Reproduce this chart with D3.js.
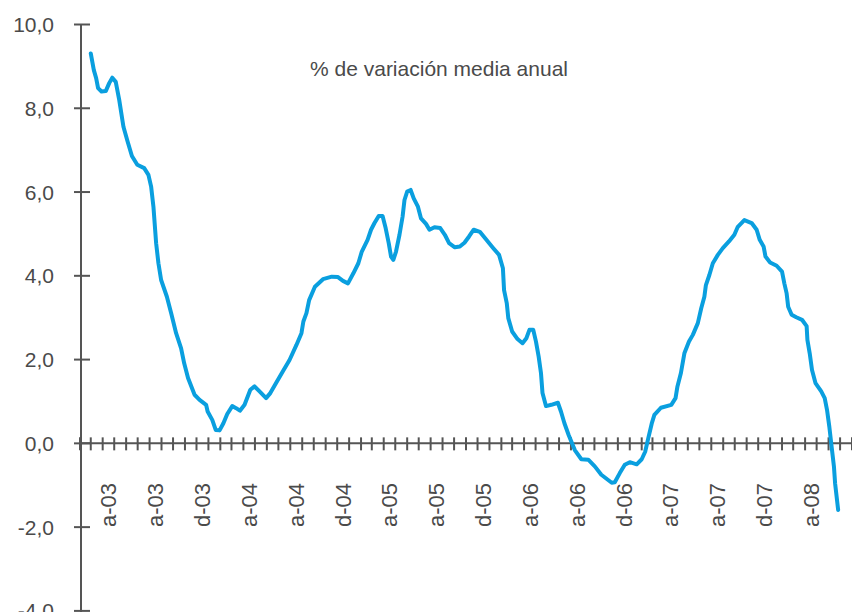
<!DOCTYPE html>
<html>
<head>
<meta charset="utf-8">
<script src="https://cdn.jsdelivr.net/npm/d3@7"></script>
<style>
  html, body { margin: 0; padding: 0; background: #fff; overflow: hidden; }
  svg { display: block; font-family: "Liberation Sans", Arial, Helvetica, sans-serif; }
</style>
</head>
<body>
<div id="grafico"></div>
<script>
// Serie: % de variación media anual
const fechas = [
  "2003-03-01","2003-03-09","2003-03-15","2003-03-20","2003-03-29","2003-04-09","2003-04-18","2003-04-26",
  "2003-05-05","2003-05-14","2003-05-25","2003-06-05","2003-06-16","2003-06-30","2003-07-18","2003-07-29",
  "2003-08-05","2003-08-11","2003-08-18","2003-08-24","2003-08-31","2003-09-15","2003-09-26","2003-10-09",
  "2003-10-22","2003-10-30","2003-11-09","2003-11-26","2003-12-09","2003-12-26","2003-12-30","2004-01-11",
  "2004-01-20","2004-01-30","2004-02-09","2004-02-19","2004-03-03","2004-03-13","2004-03-23","2004-04-04",
  "2004-04-19","2004-04-30","2004-05-13","2004-05-30","2004-06-10","2004-06-25","2004-07-12","2004-07-30",
  "2004-08-17","2004-08-30","2004-09-04","2004-09-12","2004-09-19","2004-10-04","2004-10-25","2004-11-17",
  "2004-12-03","2004-12-16","2004-12-29","2005-01-12","2005-01-25","2005-02-03","2005-02-18","2005-02-27",
  "2005-03-08","2005-03-19","2005-03-29","2005-04-06","2005-04-14","2005-04-20","2005-04-26","2005-05-03",
  "2005-05-12","2005-05-20","2005-05-25","2005-06-01","2005-06-10","2005-06-18","2005-06-29","2005-07-07",
  "2005-07-20","2005-07-29","2005-08-11","2005-08-26","2005-09-07","2005-09-18","2005-10-03","2005-10-16",
  "2005-10-28","2005-11-09","2005-11-21","2005-12-07","2005-12-24","2006-01-11","2006-01-26","2006-02-05",
  "2006-02-08","2006-02-15","2006-02-19","2006-03-01","2006-03-15","2006-03-28","2006-04-07","2006-04-15",
  "2006-04-25","2006-05-02","2006-05-09","2006-05-15","2006-05-19","2006-05-28","2006-06-11","2006-06-28",
  "2006-07-06","2006-07-15","2006-07-26","2006-08-11","2006-08-28","2006-09-15","2006-10-02","2006-10-19",
  "2006-11-15","2006-11-23","2006-12-06","2006-12-19","2007-01-01","2007-01-19","2007-02-01","2007-02-10",
  "2007-02-18","2007-02-27","2007-03-06","2007-03-23","2007-04-19","2007-04-30","2007-05-05","2007-05-14",
  "2007-05-23","2007-06-04","2007-06-14","2007-06-27","2007-07-06","2007-07-14","2007-07-18","2007-07-27",
  "2007-08-05","2007-08-18","2007-08-31","2007-09-16","2007-09-30","2007-10-09","2007-10-26","2007-11-14",
  "2007-11-27","2007-12-05","2007-12-15","2007-12-20","2008-01-01","2008-01-18","2008-02-01","2008-02-07",
  "2008-02-13","2008-02-17","2008-02-26","2008-03-09","2008-03-24","2008-04-05","2008-04-07","2008-04-13",
  "2008-04-19","2008-04-28","2008-05-13","2008-05-22","2008-05-28","2008-06-03","2008-06-09","2008-06-15",
  "2008-06-18","2008-06-26"
];
const valores = [
  9.31, 8.91, 8.72, 8.48, 8.40, 8.41, 8.60, 8.73,
  8.63, 8.20, 7.56, 7.20, 6.86, 6.65, 6.57, 6.41,
  6.13, 5.65, 4.78, 4.30, 3.90, 3.50, 3.11, 2.63,
  2.27, 1.91, 1.56, 1.16, 1.04, 0.92, 0.76, 0.56,
  0.32, 0.31, 0.48, 0.70, 0.89, 0.84, 0.78, 0.92,
  1.28, 1.36, 1.24, 1.08, 1.20, 1.44, 1.71, 1.99,
  2.35, 2.63, 2.91, 3.11, 3.42, 3.74, 3.92, 3.98,
  3.97, 3.88, 3.82, 4.06, 4.30, 4.58, 4.86, 5.10,
  5.26, 5.43, 5.43, 5.14, 4.78, 4.46, 4.38, 4.58,
  4.98, 5.41, 5.81, 6.01, 6.05, 5.85, 5.65, 5.37,
  5.24, 5.10, 5.16, 5.14, 4.98, 4.78, 4.68, 4.70,
  4.79, 4.94, 5.10, 5.05, 4.86, 4.66, 4.50, 4.18,
  3.66, 3.35, 2.99, 2.67, 2.49, 2.39, 2.51, 2.71,
  2.71, 2.43, 2.07, 1.68, 1.20, 0.89, 0.92, 0.97,
  0.76, 0.48, 0.20, -0.16, -0.38, -0.39, -0.55, -0.75,
  -0.94, -0.93, -0.71, -0.51, -0.45, -0.50, -0.38, -0.20,
  0.12, 0.47, 0.68, 0.85, 0.92, 1.08, 1.36, 1.68,
  2.15, 2.43, 2.59, 2.87, 3.23, 3.50, 3.78, 4.02,
  4.30, 4.50, 4.66, 4.82, 4.98, 5.17, 5.33, 5.26,
  5.10, 4.86, 4.70, 4.46, 4.32, 4.24, 4.10, 3.82,
  3.58, 3.26, 3.07, 3.01, 2.95, 2.80, 2.47, 2.15,
  1.75, 1.44, 1.24, 1.08, 0.80, 0.40, -0.08, -0.55,
  -0.95, -1.59
];

// Eje Y y etiquetas del eje X (inicial del mes en español)
const ticksY = [10, 8, 6, 4, 2, 0, -2, -4];
const inicialMes = ["e", "f", "m", "a", "m", "j", "j", "a", "s", "o", "n", "d"];
const mesesEtiqueta = ["2003-04","2003-08","2003-12","2004-04","2004-08","2004-12","2005-04","2005-08",
  "2005-12","2006-04","2006-08","2006-12","2007-04","2007-08","2007-12","2008-04"];
const titulo = "% de variación media anual";

const width = 852;
const height = 612;
const parse = d3.timeParse("%Y-%m-%d");
const parseMes = d3.timeParse("%Y-%m");

const datos = fechas.map((f, i) => ({ fecha: parse(f), valor: valores[i] }));

const svg = d3.select("#grafico")
  .append("svg")
  .attr("width", width)
  .attr("height", height);

const x = d3.scaleTime()
  .domain([new Date(2003, 1, 1), new Date(2008, 7, 1)])
  .range([80, 852]);

const y = d3.scaleLinear()
  .domain([-4, 10])
  .range([610.9, 24.5]);

const gris = "#555";
const colorTexto = "#4a4a4a";

// Eje Y
const ejeY = svg.append("g").attr("transform", "translate(81,0)");
ejeY.append("line")
  .attr("y1", y(10)).attr("y2", height + 2)
  .attr("stroke", gris).attr("stroke-width", 2);
ejeY.selectAll(".tickY")
  .data(ticksY)
  .enter().append("line")
  .attr("x1", -7).attr("x2", 9)
  .attr("y1", d => y(d)).attr("y2", d => y(d))
  .attr("stroke", gris).attr("stroke-width", 2);

svg.append("g")
  .selectAll("text")
  .data(ticksY)
  .enter().append("text")
  .attr("x", 54)
  .attr("y", d => y(d))
  .attr("dy", "0.36em")
  .attr("text-anchor", "end")
  .style("font-size", "21px")
  .style("fill", colorTexto)
  .text(d => d3.format(".1f")(d).replace(".", ",").replace("\u2212", "-"));

// Eje X en el cero, con marcas mensuales
const ejeX = svg.append("g").attr("transform", `translate(0,${y(0)})`);
ejeX.append("line")
  .attr("x1", 80).attr("x2", width)
  .attr("stroke", gris).attr("stroke-width", 2);
ejeX.selectAll(".tickX")
  .data(x.ticks(d3.timeMonth.every(1)))
  .enter().append("line")
  .attr("x1", d => x(d)).attr("x2", d => x(d))
  .attr("y1", -6).attr("y2", 7)
  .attr("stroke", gris).attr("stroke-width", 2);

// Etiquetas giradas, centradas en el mes
svg.append("g")
  .selectAll("text")
  .data(mesesEtiqueta.map(parseMes))
  .enter().append("text")
  .attr("transform", d => {
    const centro = x(d3.timeDay.offset(d, 15));
    return `translate(${centro},483) rotate(-90)`;
  })
  .attr("dy", "0.36em")
  .attr("text-anchor", "end")
  .style("font-size", "22px")
  .style("fill", colorTexto)
  .text(d => inicialMes[d.getMonth()] + "-" + d3.timeFormat("%y")(d));

// Línea de la serie
svg.append("path")
  .datum(datos)
  .attr("fill", "none")
  .attr("stroke", "#0a9fdf")
  .attr("stroke-width", 4)
  .attr("stroke-linejoin", "round")
  .attr("stroke-linecap", "round")
  .attr("d", d3.line()
    .x(d => x(d.fecha))
    .y(d => y(d.valor)));

// Título dentro del gráfico
svg.append("text")
  .attr("x", 439)
  .attr("y", 76)
  .attr("text-anchor", "middle")
  .style("font-size", "21px")
  .style("fill", colorTexto)
  .text(titulo);
</script>
</body>
</html>
